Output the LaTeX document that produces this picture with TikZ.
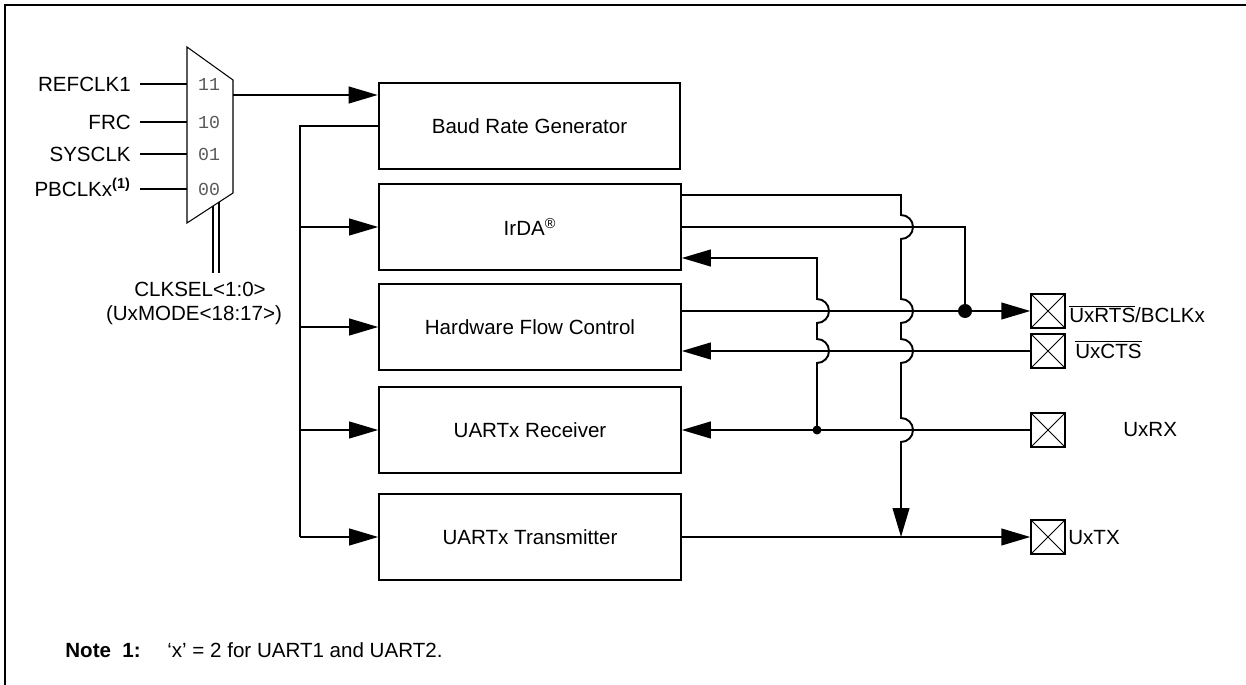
\documentclass[tikz,border=0pt]{standalone}
\usepackage{fontspec}
\setmainfont{Liberation Sans}
\setmonofont{Liberation Mono}
\usetikzlibrary{arrows.meta,calc}

% line hops on the vertical buses
\newcommand{\hopdn}{arc[start angle=-90,end angle=90,radius=12]}
\newcommand{\hopup}{arc[start angle=90,end angle=-90,radius=12]}

\begin{document}
\begin{tikzpicture}[x=0.02cm,y=-0.02cm,
		every node/.style={font=\fontsize{11.7pt}{14pt}\selectfont},
		blk/.style={draw,line width=1.3pt,minimum width=171.5pt,minimum height=49pt,inner sep=0pt},
		wire/.style={line width=1.1pt},
		arr/.style={wire,-{Triangle[length=16.5pt,width=9.5pt]}},
		padbox/.style={draw,line width=1.1pt,minimum size=19pt,inner sep=0pt,
				path picture={\draw[line width=0.5pt]
					(path picture bounding box.north west) -- (path picture bounding box.south east)
					(path picture bounding box.north east) -- (path picture bounding box.south west);}},
		inlbl/.style={anchor=base east,inner xsep=5.1pt,inner ysep=0pt},
		sellbl/.style={font=\fontsize{10.4pt}{12pt}\ttfamily,text=black!65,inner sep=0pt},
		pinlbl/.style={anchor=base west,inner sep=0pt},
		notelbl/.style={anchor=base west,inner sep=0pt}]
	\useasboundingbox (0,0) rectangle (1246,685);

	% frame
	\draw[line width=1.2pt] (5,685) -- (5,5) -- (1246,5);

	% clock multiplexer
	\coordinate (mtl) at (187,47);
	\coordinate (mtr) at (233,80);
	\coordinate (mbr) at (233,193);
	\coordinate (mbl) at (187,223);
	\draw[line width=0.6pt] (mtl) -- (mtr) -- (mbr) -- (mbl) -- cycle;
	\foreach \nm/\txt/\y/\code in {refclk/REFCLK1/84/11, frc/FRC/122/10, sysclk/SYSCLK/154/01,
			pbclk/{PBCLKx\textsuperscript{\textbf{(1)}}}/189/00} {
			\node[inlbl] (\nm) at (140,\y+7.5) {\txt};
			\node[sellbl] (s\code) at (209,\y) {\code};
			\draw[wire] (\nm.east |- s\code) -- (s\code -| mtl);
		}

	% select lines
	\draw[wire] (213.3,205.8) -- (213.3,273);
	\draw[wire] (219.3,201.9) -- (219.3,273);
	\node[anchor=base,inner sep=0pt] (clksel) at (200,297) {CLKSEL<1:0>};
	\node[anchor=base,inner sep=0pt] (uxmode) at (194,321) {(UxMODE<18:17>)};

	% blocks
	\node[blk] (brg) at (529.5,126) {Baud Rate Generator};
	\node[blk] (irda) at (530,227) {IrDA\textsuperscript{\textregistered}};
	\node[blk] (hfc) at (530,327) {Hardware Flow Control};
	\node[blk] (rx) at (530,430) {UARTx Receiver};
	\node[blk] (tx) at (530,537) {UARTx Transmitter};

	% pins
	\node[padbox] (prts) at (1048,311) {};
	\node[padbox] (pcts) at (1048,351) {};
	\node[padbox] (prx) at (1048,430) {};
	\node[padbox] (ptx) at (1048,537) {};
	\node[pinlbl] (lrts) at (1069,323) {$\overline{\mbox{UxRTS}}$/BCLKx};
	\node[pinlbl] (lcts) at (1075,358) {$\overline{\mbox{UxCTS}}$};
	\node[pinlbl] (lrx) at (1123,436) {UxRX};
	\node[pinlbl] (ltx) at (1068,544) {UxTX};

	% clock into baud rate generator
	\coordinate (mout) at (233,95);
	\draw[arr] (mout) -- (mout -| brg.west);

	% baud clock bus
	\coordinate (busL) at (300,0);
	\draw[wire] (brg.west) -| (busL |- tx);
	\foreach \b in {irda,hfc,rx,tx} {
			\draw[arr] (busL |- \b.west) -- (\b.west);
		}

	% right side buses
	\coordinate (busA) at (817,0);
	\coordinate (busB) at (901,0);
	\coordinate (busC) at (965,0);

	\draw[arr] (hfc.east |- prts) -- (prts.west);
	\fill (busC |- prts) circle (7);
	\draw[arr] (pcts.west) -- (hfc.east |- pcts);
	\draw[arr] (prx.west) -- (rx.east);
	\fill (busA |- prx) circle (4.5);
	\draw[arr] (tx.east) -- (ptx.west);

	% IrDA outputs
	\draw[wire] (irda.east) -| (busC |- prts);
	\draw[arr] ($(irda.east)+(0,-32)$) -| ($(busB |- irda.east)+(0,-12)$) \hopdn
		-- ($(busB |- prts)+(0,-12)$) \hopdn
		-- ($(busB |- pcts)+(0,-12)$) \hopdn
		-- ($(busB |- prx)+(0,-12)$) \hopdn
		-- (busB |- tx);

	% IrDA input from UxRX
	\draw[arr] (busA |- prx) -- ($(busA |- pcts)+(0,12)$) \hopup
		-- ($(busA |- prts)+(0,12)$) \hopup
		|- ($(irda.east)+(0,31)$);

	% note
	\node[notelbl] (note) at (65,657) {\textbf{Note}};
	\node[notelbl] (nnum) at (122,657) {\textbf{1:}};
	\node[notelbl] (ntxt) at (167,657) {`x' = 2 for UART1 and UART2.};
\end{tikzpicture}
\end{document}
